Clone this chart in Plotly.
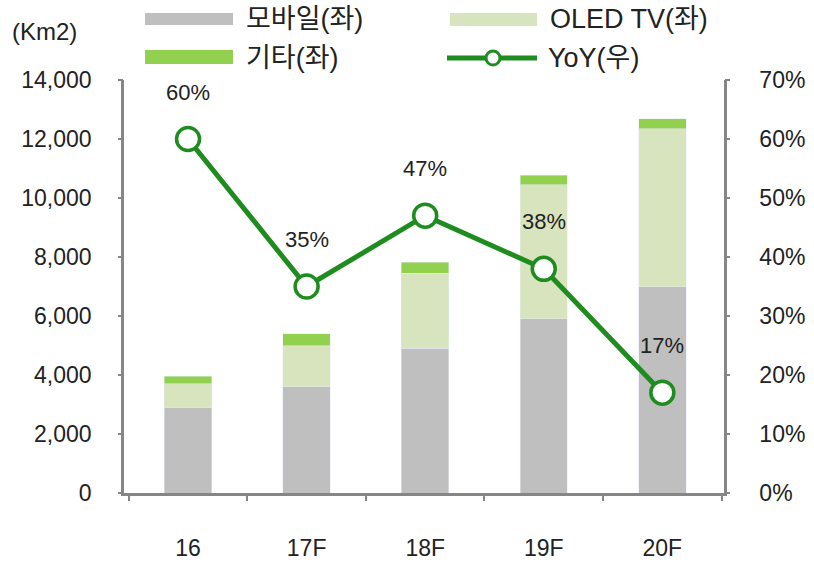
import plotly.graph_objects as go

categories = ["16", "17F", "18F", "19F", "20F"]
mobile = [2900, 3600, 4900, 5900, 7000]
oled_tv = [800, 1400, 2550, 4550, 5350]
other = [250, 400, 380, 320, 340]
yoy = [0.60, 0.35, 0.47, 0.38, 0.17]
yoy_labels = ["60%", "35%", "47%", "38%", "17%"]

FONT = "Liberation Sans, Arial, Noto Sans CJK KR, sans-serif"
GRAY = "#bfbfbf"
LIGHT = "#d7e4bd"
GREEN = "#92d050"
DARK = "#1f8c1f"
AXIS = "#868686"
TXT = "#222222"
CLEAR = "rgba(0,0,0,0)"

W, H = 814, 563
L, R, T, B = 124, 90, 80, 70
PW, PH = W - L - R, H - T - B


def px(x):
    return (x - L) / PW


def py(y):
    return (H - B - y) / PH


fig = go.Figure()
fig.add_trace(go.Bar(x=categories, y=mobile, name="모바일(좌)", marker_color=GRAY, showlegend=False))
fig.add_trace(go.Bar(x=categories, y=oled_tv, name="OLED TV(좌)", marker_color=LIGHT, showlegend=False))
fig.add_trace(go.Bar(x=categories, y=other, name="기타(좌)", marker_color=GREEN, showlegend=False))
fig.add_trace(go.Scatter(
    x=categories, y=yoy, name="YoY(우)", yaxis="y2", mode="lines+markers",
    line=dict(color=DARK, width=5),
    marker=dict(size=23, color="white", line=dict(color=DARK, width=3.5)),
    showlegend=False,
))
# empty helper traces so the tick-mark-only axes get drawn
fig.add_trace(go.Scatter(x=[], y=[], yaxis="y3", showlegend=False, hoverinfo="skip"))
fig.add_trace(go.Scatter(x=[], y=[], yaxis="y4", showlegend=False, hoverinfo="skip"))

for i, (v, t) in enumerate(zip(yoy, yoy_labels)):
    fig.add_annotation(x=i, y=v, xref="x", yref="y2", text=t, showarrow=False, yshift=47,
                       font=dict(family=FONT, size=22, color=TXT))

shapes = []
shapes.append(dict(type="rect", xref="paper", yref="paper", x0=px(145), x1=px(233), y0=py(25), y1=py(13),
                   fillcolor=GRAY, line=dict(width=0)))
shapes.append(dict(type="rect", xref="paper", yref="paper", x0=px(450), x1=px(537), y0=py(26), y1=py(13),
                   fillcolor=LIGHT, line=dict(width=0)))
shapes.append(dict(type="rect", xref="paper", yref="paper", x0=px(145), x1=px(233), y0=py(64), y1=py(50),
                   fillcolor=GREEN, line=dict(width=0)))
shapes.append(dict(type="line", xref="paper", yref="paper", x0=px(447), x1=px(537), y0=py(58), y1=py(58),
                   line=dict(color=DARK, width=5)))
shapes.append(dict(type="circle", xref="paper", yref="paper", x0=px(486), x1=px(500), y0=py(65), y1=py(51),
                   fillcolor="white", line=dict(color=DARK, width=3)))
fig.update_layout(shapes=shapes)

legend_texts = [("모바일(좌)", 244, 19), ("OLED TV(좌)", 548, 19), ("기타(좌)", 244, 58), ("YoY(우)", 546, 58)]
for text, x, y in legend_texts:
    fig.add_annotation(xref="paper", yref="paper", x=px(x), y=py(y), text=text, showarrow=False,
                       xanchor="left", yanchor="middle", font=dict(family=FONT, size=27, color=TXT))
fig.add_annotation(xref="paper", yref="paper", x=px(10), y=py(32), text="(Km2)", showarrow=False,
                   xanchor="left", yanchor="middle", font=dict(family=FONT, size=24, color=TXT))

fig.update_layout(
    width=W, height=H,
    margin=dict(l=L, r=R, t=T, b=B, autoexpand=False),
    barmode="stack", bargap=0.6,
    plot_bgcolor="white", paper_bgcolor="white",
    font=dict(family=FONT, size=22, color=TXT),
    xaxis=dict(range=[-0.54, 4.52], showline=True, linecolor=AXIS, linewidth=2.5, automargin=False,
               ticks="outside", tickson="boundaries", ticklen=5, tickcolor=AXIS, tickwidth=2,
               ticklabelstandoff=33, showgrid=False, tickfont=dict(size=23, color=TXT)),
    yaxis=dict(range=[0, 14000], dtick=2000, tickformat=",d", showline=True, linecolor=AXIS,
               linewidth=2.5, ticks="outside", ticklen=25, tickcolor=CLEAR, tickwidth=1, automargin=False,
               showgrid=False, zeroline=False, tickfont=dict(size=23, color=TXT)),
    yaxis2=dict(range=[0, 0.7], dtick=0.1, tickformat=".0%", overlaying="y", side="right",
                showline=True, linecolor=AXIS, linewidth=2.5, ticks="outside", ticklen=28, automargin=False,
                tickcolor=CLEAR, tickwidth=1, showgrid=False, zeroline=False,
                tickfont=dict(size=23, color=TXT)),
    yaxis3=dict(range=[0, 14000], dtick=2000, overlaying="y", side="left", anchor="x",
                showline=False, ticks="outside", ticklen=5, tickcolor=AXIS, tickwidth=2,
                showticklabels=False, showgrid=False, zeroline=False, automargin=False),
    yaxis4=dict(range=[0, 0.7], dtick=0.1, overlaying="y", side="right", anchor="x",
                showline=False, ticks="outside", ticklen=5, tickcolor=AXIS, tickwidth=2,
                showticklabels=False, showgrid=False, zeroline=False, automargin=False),
)

fig.write_html("out.html", config={"displayModeBar": False},
               post_script="document.body.style.margin='0';")
